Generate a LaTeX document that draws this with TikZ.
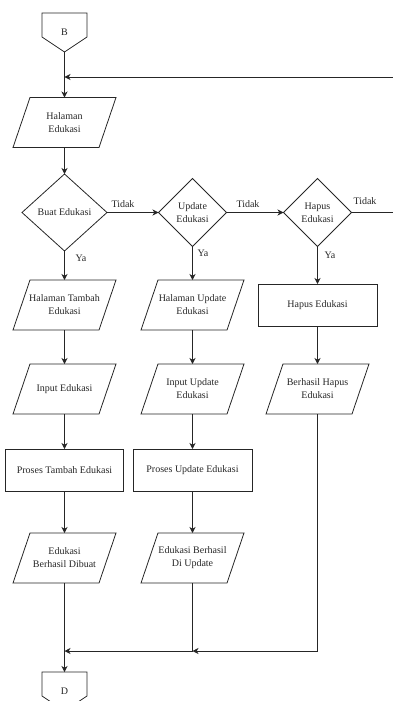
\documentclass[tikz,border=0pt]{standalone}
\usepackage{fontspec}
\setmainfont{Liberation Serif}
\usetikzlibrary{shapes.geometric,arrows.meta,calc}
\newcommand\ioshape[1]{\draw[line] ([xshift=8.5pt]#1.north west) -- ([xshift=8.5pt]#1.north east) -- ([xshift=-8.5pt]#1.south east) -- ([xshift=-8.5pt]#1.south west) -- cycle;}
\newcommand\offpage[1]{\draw[line] (#1.north west) -- (#1.north east) -- ($(#1.north east)!0.615!(#1.south east)$) -- (#1.south) -- ($(#1.north west)!0.615!(#1.south west)$) -- cycle;}
\begin{document}
\begin{tikzpicture}[x=1pt,y=-1pt,
  line/.style={draw=black!85, line width=0.8pt},
  arr/.style={line, -{Stealth[length=6pt,width=6pt,inset=1.8pt]}},
  txt/.style={font=\fontsize{10}{13}\selectfont, align=center, text=black!85},
  box/.style={txt, draw=black!85, line width=0.8pt, rectangle, minimum width=119, minimum height=42, inner sep=0pt, outer sep=0pt},
  io/.style={txt, rectangle, minimum width=86, minimum height=50, inner sep=0pt, outer sep=0pt},
  dec/.style={txt, draw=black!85, line width=0.8pt, diamond, inner sep=0pt, outer sep=0pt},
  conn/.style={txt, minimum width=45, minimum height=39, inner sep=0pt, outer sep=0pt},
  lbl/.style={font=\fontsize{10}{12}\selectfont, text=black!85, inner sep=0pt}]
\useasboundingbox (0,0) rectangle (393,701);

% nodes
\node[conn] (B) at (64.5,32.5) {B};
\node[io] (he) at (64.5,122.5) {Halaman\\Edukasi};
\node[dec, minimum width=85, minimum height=77] (d1) at (64.5,212.5) {Buat Edukasi};
\node[dec, minimum width=68, minimum height=68] (d2) at (192.5,212.5) {Update\\Edukasi};
\node[dec, minimum width=68, minimum height=68] (d3) at (317.5,212.5) {Hapus\\Edukasi};
\node[io] (ht) at (64.5,305) {Halaman Tambah\\Edukasi};
\node[io] (hu) at (192.5,305) {Halaman Update\\Edukasi};
\node[box] (hp) at (317.5,305) {Hapus Edukasi};
\node[io] (ie) at (64.5,389) {Input Edukasi};
\node[io] (iu) at (192.5,389) {Input Update\\Edukasi};
\node[io] (bh) at (317.5,389) {Berhasil Hapus\\Edukasi};
\node[box, minimum width=118] (pt) at (64.5,470) {Proses Tambah Edukasi};
\node[box] (pu) at (192.5,470) {Proses Update Edukasi};
\node[io] (ed) at (64.5,558) {Edukasi\\Berhasil Dibuat};
\node[io] (eu) at (192.5,558) {Edukasi Berhasil\\Di Update};
\node[conn] (D) at (64.5,691.5) {D};

% outlines
\offpage{B}
\offpage{D}
\foreach \n in {he,ht,hu,ie,iu,bh,ed,eu} {\ioshape{\n}}

% labels
\node[lbl] (t1) at (123,204) {Tidak};
\node[lbl] (t2) at (248,204) {Tidak};
\node[lbl] (t3) at (365,201) {Tidak};
\node[lbl] (y1) at (81,258) {Ya};
\node[lbl] (y2) at (203,253) {Ya};
\node[lbl] (y3) at (330,255) {Ya};

% coordinates
\coordinate (rin) at (393,77);
\coordinate (rout) at (393,212.5);
\coordinate (m2) at (192.5,651);
\coordinate (m1) at (64.5,651);

% connectors
\draw[arr] (rin) -- (rin -| B.south);
\draw[arr] (B.south) -- (he.north);
\draw[arr] (he.south) -- (d1.north);
\draw[arr] (d1.east) -- (d2.west);
\draw[arr] (d2.east) -- (d3.west);
\draw[line] (d3.east) -- (rout);
\draw[arr] (d1.south) -- (ht.north);
\draw[arr] (d2.south) -- (hu.north);
\draw[arr] (d3.south) -- (hp.north);
\draw[arr] (ht.south) -- (ie.north);
\draw[arr] (hu.south) -- (iu.north);
\draw[arr] (hp.south) -- (bh.north);
\draw[arr] (ie.south) -- (pt.north);
\draw[arr] (iu.south) -- (pu.north);
\draw[arr] (pt.south) -- (ed.north);
\draw[arr] (pu.south) -- (eu.north);
\draw[arr] (bh.south) |- (m2);
\draw[arr] (eu.south) |- (m1);
\draw[arr] (ed.south) -- (D.north);
\end{tikzpicture}
\end{document}
